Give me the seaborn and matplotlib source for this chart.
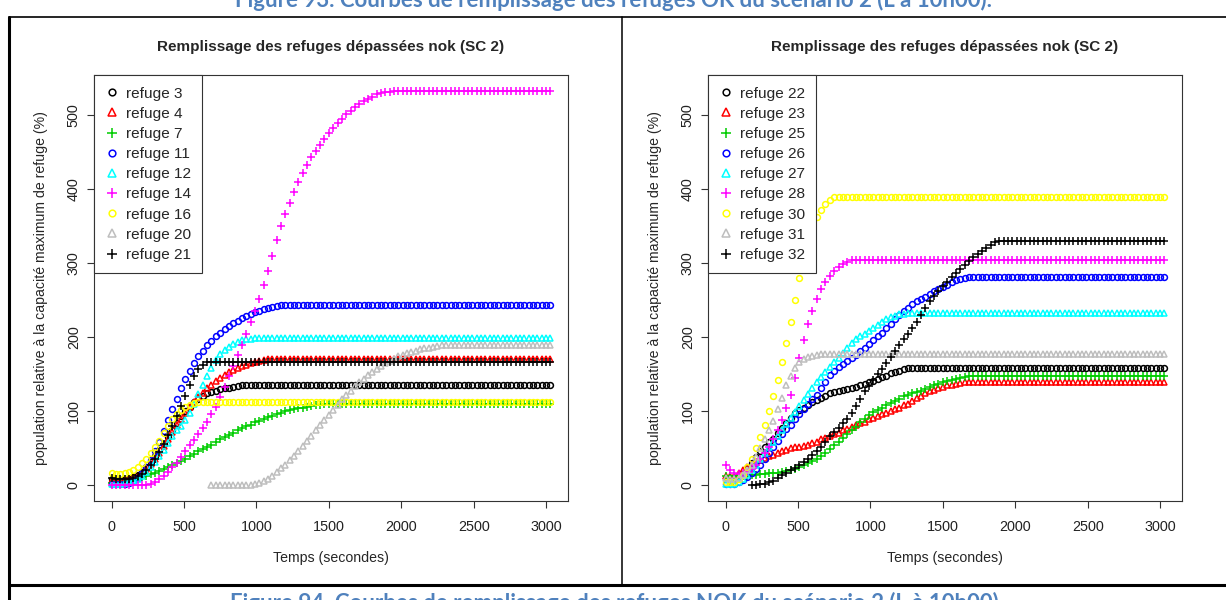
import numpy as np
import pandas as pd
import matplotlib
matplotlib.use("Agg")
import matplotlib.pyplot as plt
from matplotlib.lines import Line2D
import seaborn as sns

sns.set_style("ticks")
plt.rcParams["font.family"] = ["Liberation Sans", "DejaVu Sans"]

STEP = 30
T_END = 3030

TITLE = "Remplissage des refuges dépassées nok (SC 2)"
XLABEL = "Temps (secondes)"
YLABEL = "population relative à la capacité maximum de refuge (%)"
X_TICKS = [0, 500, 1000, 1500, 2000, 2500, 3000]
Y_TICKS = [0, 100, 200, 300, 400, 500]

# R default palette / pch 1,2,3
COLORS = ["black", "red", "#00CD00", "blue", "cyan", "magenta", "yellow", "#BEBEBE", "black"]
MARKERS = ["o", "^", "+", "o", "^", "+", "o", "^", "+"]

# ---- left panel ----
left_names = ["refuge 3", "refuge 4", "refuge 7", "refuge 11", "refuge 12",
              "refuge 14", "refuge 16", "refuge 20", "refuge 21"]
left_start = [0, 0, 0, 0, 0, 0, 0, 690, 0]
left_plateau = [136, 171, 110, 243, 199, 533, 113, 190, 167]
left_rise = [
    [8, 7, 7, 8, 9, 11, 14, 18, 24, 31, 39, 47, 56, 65, 75, 84, 93, 100, 106, 112, 117, 121,
     124, 126, 128, 130, 131, 132, 133, 134, 135, 135, 136],
    [7, 6, 6, 7, 8, 10, 13, 17, 22, 29, 36, 44, 53, 62, 72, 81, 90, 98, 106, 113, 119, 125,
     131, 136, 141, 145, 149, 153, 156, 159, 161, 163, 165, 167, 168, 169, 170, 171],
    [3, 3, 4, 5, 6, 7, 9, 11, 13, 15, 17, 19, 22, 24, 27, 30, 33, 36, 39, 42, 46, 49, 52, 55,
     59, 62, 65, 68, 71, 74, 77, 80, 82, 85, 87, 90, 92, 94, 96, 98, 100, 101, 103, 104, 105,
     106, 107, 108, 109, 110],
    [1, 1, 1, 2, 3, 6, 10, 16, 24, 34, 46, 59, 73, 88, 103, 117, 131, 144, 155, 165, 174, 182,
     189, 195, 201, 206, 211, 215, 219, 222, 226, 229, 232, 234, 236, 238, 240, 241, 242, 243],
    [2, 2, 2, 3, 4, 6, 9, 13, 18, 24, 31, 39, 48, 57, 66, 74, 80, 88, 98, 110, 123, 136, 148,
     159, 169, 177, 183, 187, 191, 194, 196, 197, 198, 199],
    [0, 0, 0, 0, 0, 0, 0, 0, 0, 1, 4, 8, 13, 18, 24, 30, 38, 46, 54, 61, 69, 77, 86, 96, 106,
     119, 133, 147, 161, 176, 190, 205, 220, 236, 252, 270, 290, 310, 332, 350, 366, 382, 396,
     410, 422, 433, 443, 452, 460, 468, 476, 483, 489, 495, 501, 506, 511, 515, 519, 522, 525,
     528, 530, 531, 532, 533],
    [16, 15, 15, 16, 18, 21, 25, 30, 36, 43, 51, 60, 70, 80, 89, 96, 102, 106, 109, 111, 112, 113],
    [0, 0, 0, 0, 0, 0, 0, 0, 0, 0, 1, 3, 6, 9, 13, 18, 23, 28, 34, 40, 46, 53, 60, 67, 74, 81,
     88, 95, 102, 109, 116, 122, 128, 134, 139, 144, 149, 153, 157, 161, 165, 168, 171, 174,
     176, 178, 180, 182, 184, 185, 186, 187, 188, 189, 189, 190],
    [10, 9, 8, 8, 9, 10, 12, 15, 20, 27, 35, 45, 56, 68, 80, 93, 107, 121, 135, 147, 157, 163,
     166, 167],
]

# ---- right panel ----
right_names = ["refuge 22", "refuge 23", "refuge 25", "refuge 26", "refuge 27",
               "refuge 28", "refuge 30", "refuge 31", "refuge 32"]
right_start = [0, 0, 0, 0, 0, 0, 0, 0, 180]
right_plateau = [158, 140, 148, 281, 233, 305, 390, 177, 330]
right_rise = [
    [10, 9, 9, 11, 15, 22, 30, 38, 46, 52, 58, 63, 70, 77, 84, 91, 97, 102, 105, 108, 112, 115,
     118, 121, 124, 126, 128, 129, 130, 131, 133, 135, 137, 139, 141, 143, 146, 148, 151, 153,
     155, 157, 158],
    [12, 12, 13, 16, 20, 24, 28, 31, 34, 37, 39, 41, 44, 46, 48, 50, 51, 52, 53, 55, 57, 59, 62,
     64, 66, 69, 71, 74, 76, 79, 81, 84, 86, 89, 91, 94, 96, 98, 100, 103, 105, 108, 110, 114,
     118, 121, 124, 127, 129, 131, 133, 135, 136, 137, 138, 139, 139, 140],
    [12, 12, 12, 13, 13, 13, 14, 14, 15, 15, 16, 16, 17, 18, 19, 20, 22, 24, 27, 30, 33, 36, 40,
     44, 49, 54, 59, 64, 69, 74, 79, 85, 90, 95, 99, 102, 105, 108, 111, 114, 117, 120, 122,
     124, 126, 128, 130, 133, 135, 137, 139, 141, 142, 144, 145, 146, 147, 148],
    [2, 1, 2, 4, 7, 11, 16, 22, 28, 35, 43, 51, 60, 69, 76, 82, 90, 96, 103, 110, 116, 122, 131,
     140, 149, 155, 160, 164, 168, 172, 176, 181, 186, 191, 196, 201, 206, 212, 218, 224, 230,
     235, 240, 245, 249, 252, 255, 259, 262, 265, 268, 271, 274, 277, 279, 280, 281],
    [2, 1, 2, 5, 9, 14, 20, 27, 35, 43, 51, 59, 67, 75, 83, 91, 99, 107, 115, 123, 131, 139, 146,
     153, 160, 166, 172, 178, 185, 192, 197, 202, 205, 209, 213, 217, 221, 224, 227, 229, 231,
     232, 233],
    [28, 20, 16, 15, 16, 18, 22, 28, 35, 43, 52, 63, 74, 88, 104, 122, 145, 172, 196, 218, 236,
     252, 265, 275, 283, 290, 295, 299, 302, 304, 305],
    [5, 4, 5, 8, 14, 24, 36, 50, 65, 82, 100, 120, 142, 166, 192, 220, 250, 280, 306, 330, 348,
     362, 372, 380, 386, 389, 390],
    [10, 8, 8, 10, 14, 20, 28, 38, 50, 62, 74, 87, 103, 118, 135, 148, 159, 166, 170, 173, 175,
     176, 177],
    [0, 0, 1, 2, 4, 6, 10, 14, 17, 20, 23, 27, 31, 36, 41, 46, 52, 59, 66, 72, 78, 84, 90, 98,
     107, 117, 127, 134, 142, 150, 157, 165, 173, 181, 189, 197, 205, 213, 221, 230, 240, 249,
     256, 263, 269, 275, 281, 287, 292, 297, 303, 308, 312, 317, 321, 325, 328, 330],
]


def make_frame(names, starts, rises, plateaus):
    rows = []
    for name, t0, rise, plat in zip(names, starts, rises, plateaus):
        t = np.arange(t0, T_END + STEP, STEP)
        vals = list(rise) + [plat] * (len(t) - len(rise))
        rows.append(pd.DataFrame({"t": t, "value": vals, "refuge": name}))
    return pd.concat(rows, ignore_index=True)


def draw_panel(ax, df, names):
    for i, name in enumerate(names):
        sub = df[df["refuge"] == name]
        col = COLORS[i]
        mk = MARKERS[i]
        ms = {"o": 4.2, "^": 5.0, "+": 6.4}[mk]
        sns.lineplot(data=sub, x="t", y="value", ax=ax, estimator=None,
                     color=col, marker=mk, linestyle="", mfc="none", mec=col,
                     ms=ms, mew=1.1, label=name)
    ax.set_xlim(-121, 3151)
    ax.set_ylim(-21.3, 554.3)
    ax.set_xticks(X_TICKS)
    ax.set_yticks(Y_TICKS)
    ax.set_xlabel(XLABEL, fontsize=10.2)
    ax.set_ylabel(YLABEL, fontsize=10.2)
    ax.xaxis.set_label_coords(0.5, -0.118)
    ax.yaxis.set_label_coords(-0.098, 0.5)
    ax.set_title(TITLE, fontweight="bold", fontsize=11, pad=17.5)
    ax.tick_params(direction="out", length=5, width=0.8, color="#333333",
                   labelsize=10.4, labelcolor="#222222")
    ax.tick_params(axis="x", pad=9)
    ax.tick_params(axis="y", pad=4.5, labelrotation=90)
    for lab in ax.get_yticklabels():
        lab.set_va("center")
    for sp in ax.spines.values():
        sp.set_visible(True)
        sp.set_color("#333333")
        sp.set_linewidth(0.8)
    leg = ax.legend(loc="upper left", borderaxespad=0, fancybox=False,
                    edgecolor="#333333", framealpha=1, fontsize=11.1,
                    handlelength=0.8, handletextpad=0.5, labelspacing=0.4,
                    borderpad=0.75, markerscale=1.15)
    leg.get_frame().set_linewidth(0.8)


df_left = make_frame(left_names, left_start, left_rise, left_plateau)
df_right = make_frame(right_names, right_start, right_rise, right_plateau)

W, H = 1226, 600
fig = plt.figure(figsize=(W / 100, H / 100), dpi=100)
ax1 = fig.add_axes([94 / W, 1 - 501 / H, 474 / W, 426 / H])
ax2 = fig.add_axes([708 / W, 1 - 501 / H, 474 / W, 426 / H])
draw_panel(ax1, df_left, left_names)
draw_panel(ax2, df_right, right_names)


def fig_line(x0, y0, x1, y1, lw):
    fig.add_artist(Line2D([x0 / W, x1 / W], [1 - y0 / H, 1 - y1 / H],
                          transform=fig.transFigure, color="black", lw=lw))


# table borders of the document
fig_line(9, 17, W, 17, 1.2)
fig_line(9, 17, 9, H, 2.2)
fig_line(622, 17, 622, 585, 1.1)
fig_line(9, 585, W, 585, 2.2)

cap_color = "#4F81BD"
fig.text(614 / W, 1 - 0 / H, "Figure 93. Courbes de remplissage des refuges OK du scénario 2 (L à 10h00).",
         ha="center", va="center", fontsize=16, fontweight="bold", color=cap_color,
         family=["Lato", "DejaVu Sans"])
fig.text(614 / W, 1 - 603 / H, "Figure 94. Courbes de remplissage des refuges NOK du scénario 2 (L à 10h00)",
         ha="center", va="center", fontsize=16, fontweight="bold", color=cap_color,
         family=["Lato", "DejaVu Sans"])

fig.savefig("out.png", dpi=100)
